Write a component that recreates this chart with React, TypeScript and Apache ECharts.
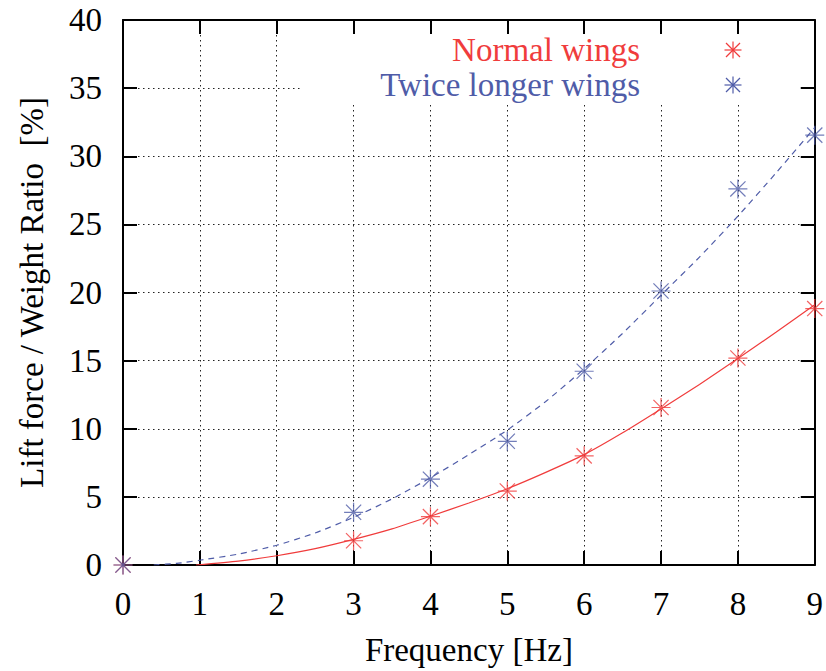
import React, { useEffect, useRef } from "react";
import * as echarts from "echarts";

const xTicks = [0, 1, 2, 3, 4, 5, 6, 7, 8, 9];
const normalPoints: [number, number][] = [
  [0, 0], [3, 1.78], [4, 3.55], [5, 5.43], [6, 8.01], [7, 11.56], [8, 15.19], [9, 18.82],
];
const longerPoints: [number, number][] = [
  [0, 0], [3, 3.87], [4, 6.3], [5, 9.08], [6, 14.22], [7, 20.11], [8, 27.6], [9, 31.55],
];
const normalFit: [number, number][] = [
  [0.95, 0], [1.5, 0.28], [2, 0.68], [2.5, 1.2], [3, 1.88], [3.5, 2.65], [4, 3.58], [4.5, 4.55],
  [5, 5.6], [5.5, 6.8], [6, 8.1], [6.5, 9.7], [7, 11.45], [7.5, 13.25], [8, 15.15], [8.5, 17.1], [9, 19.1],
];
const longerFit: [number, number][] = [
  [0.4, 0], [0.7, 0.12], [1, 0.35], [1.5, 0.8], [2, 1.45], [2.5, 2.35], [3, 3.5], [3.5, 4.85], [4, 6.4],
  [4.5, 8.1], [5, 9.9], [5.5, 12.0], [6, 14.4], [6.5, 17.0], [7, 19.8], [7.5, 22.6], [8, 25.6],
  [8.5, 28.8], [9, 32.1],
];
const legendNames = ["Normal wings", "Twice longer wings"];

const RED = "#f03c3c";
const BLUE = "#4f5ca8";
const FONT = "Liberation Serif";
const FS = 33;

const STAR =
  "path://M-0.65,-10L0.65,-10L0.65,10L-0.65,10Z" +
  "M-10,-0.65L10,-0.65L10,0.65L-10,0.65Z" +
  "M-7.54,-8.46L8.46,7.54L7.54,8.46L-8.46,-7.54Z" +
  "M-8.46,7.54L7.54,-8.46L8.46,-7.54L-7.54,8.46Z" +
  "M-1.3,-1.3L1.3,-1.3L1.3,1.3L-1.3,1.3Z";

function starGraphic(cx: number, cy: number, color: string) {
  const r = 8.5;
  const d = 7;
  const ls = { stroke: color, lineWidth: 1.2 };
  return {
    type: "group",
    children: [
      { type: "line", z: 102, shape: { x1: cx - r, y1: cy, x2: cx + r, y2: cy }, style: ls },
      { type: "line", z: 102, shape: { x1: cx, y1: cy - r, x2: cx, y2: cy + r }, style: ls },
      { type: "line", z: 102, shape: { x1: cx - d, y1: cy - d, x2: cx + d, y2: cy + d }, style: ls },
      { type: "line", z: 102, shape: { x1: cx - d, y1: cy + d, x2: cx + d, y2: cy - d }, style: ls },
      { type: "circle", z: 102, shape: { cx, cy, r: 1.3 }, style: { fill: color } },
    ],
  };
}

export default function App() {
  const ref = useRef<HTMLDivElement>(null);
  useEffect(() => {
    if (!ref.current) return;
    const chart = echarts.init(ref.current, undefined, { renderer: "svg" });
    const axisLine = { show: true, onZero: false, lineStyle: { color: "#000", width: 2 } };
    const axisTick = { show: true, inside: true, length: 14, lineStyle: { color: "#000", width: 2 } };
    const split = { show: true, lineStyle: { color: "#222", width: 1, type: [1.5, 3.5] } };
    const label = { fontFamily: FONT, fontSize: FS, color: "#000" };
    chart.setOption({
      animation: false,
      backgroundColor: "#fff",
      grid: { left: 123, right: 6, top: 20, bottom: 104, containLabel: false },
      xAxis: [
        {
          type: "value", min: 0, max: 9, interval: 1, position: "bottom",
          axisLine, axisTick, splitLine: split,
          axisLabel: { ...label, margin: 22, formatter: (v: number) => (xTicks.includes(v) ? String(v) : "") },
          name: "Frequency [Hz]", nameLocation: "middle", nameGap: 68,
          nameTextStyle: { fontFamily: FONT, fontSize: FS, color: "#000" },
        },
        {
          type: "value", min: 0, max: 9, interval: 1, position: "top",
          axisLine, axisTick, splitLine: { show: false }, axisLabel: { show: false },
        },
      ],
      yAxis: [
        {
          type: "value", min: 0, max: 40, interval: 5, position: "left",
          axisLine, axisTick, splitLine: split,
          axisLabel: { ...label, margin: 21 },
          name: "Lift force / Weight Ratio  [%]", nameLocation: "middle", nameGap: 75,
          nameTextStyle: { fontFamily: FONT, fontSize: FS, color: "#000" },
        },
        {
          type: "value", min: 0, max: 40, interval: 5, position: "right",
          axisLine, axisTick, splitLine: { show: false }, axisLabel: { show: false },
        },
      ],
      series: [
        {
          type: "line", data: normalFit, showSymbol: false, smooth: 0.2, z: 3,
          lineStyle: { color: RED, width: 1.2 },
        },
        {
          type: "line", data: longerFit, showSymbol: false, smooth: 0.2, z: 3,
          lineStyle: { color: BLUE, width: 1.2, type: [6, 5] },
        },
        {
          type: "scatter", name: legendNames[0], data: normalPoints, symbol: STAR, symbolSize: 19, z: 4,
          itemStyle: { color: RED },
        },
        {
          type: "scatter", name: legendNames[1], data: longerPoints, symbol: STAR, symbolSize: 19, z: 5,
          itemStyle: { color: BLUE },
        },
      ],
      graphic: [
        { type: "rect", z: 100, shape: { x: 300, y: 34, width: 500, height: 70 }, style: { fill: "#fff" } },
        {
          type: "text", z: 101, x: 640, y: 50,
          style: { text: legendNames[0], fill: RED, font: `${FS}px "${FONT}"`, align: "right", verticalAlign: "middle" },
        },
        {
          type: "text", z: 101, x: 640, y: 85,
          style: { text: legendNames[1], fill: BLUE, font: `${FS}px "${FONT}"`, align: "right", verticalAlign: "middle" },
        },
        starGraphic(733, 50, RED),
        starGraphic(733, 85, BLUE),
      ],
    });
    return () => chart.dispose();
  }, []);
  return <div ref={ref} style={{ position: "absolute", left: 0, top: 0, width: 826, height: 671 }} />;
}
